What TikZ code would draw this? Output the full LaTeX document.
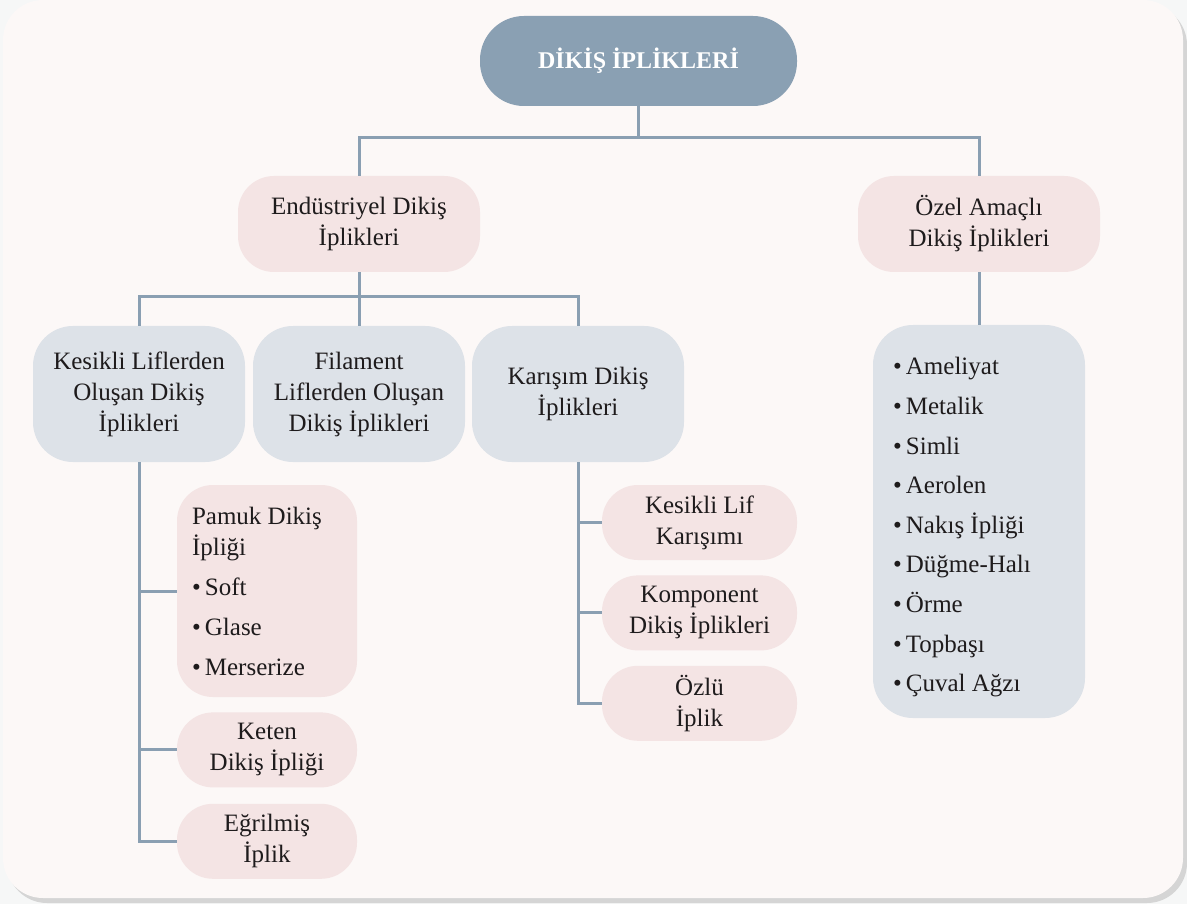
\documentclass[tikz,border=0pt]{standalone}
\usepackage{fontspec}
\setmainfont{Liberation Serif}
\usetikzlibrary{positioning}
\definecolor{dkpage}{RGB}{246,247,247}
\definecolor{dkpanel}{RGB}{252,248,247}
\definecolor{dkshadow}{RGB}{213,213,213}
\definecolor{dkslate}{RGB}{138,160,179}
\definecolor{dkpink}{RGB}{244,228,228}
\definecolor{dkgrey}{RGB}{221,226,232}
\definecolor{dkline}{RGB}{138,159,178}
\definecolor{dktext}{RGB}{30,27,28}
\newcommand{\dkfont}{\fontsize{25}{31}\selectfont}
\tikzset{
  rootnode/.style={fill=dkslate, rounded corners=44pt, text=white,
                   font=\fontsize{24}{30}\selectfont\bfseries,
                   minimum width=317pt, minimum height=90pt, inner sep=0pt},
  pnode/.style={fill=dkpink, rounded corners=36pt, font=\dkfont, text=dktext,
                align=center, minimum width=#1, minimum height=75pt, inner sep=0pt},
  gnode/.style={fill=dkgrey, rounded corners=40pt, font=\dkfont, text=dktext,
                align=center, minimum width=212pt, minimum height=136pt, inner sep=0pt},
  link/.style={draw=dkline, line width=3pt},
}

\begin{document}
\begin{tikzpicture}[x=1pt, y=-1pt]
  % Page and panel
  \fill[dkpage] (0,0) rectangle (1187,904);
  \useasboundingbox (0,0) rectangle (1187,904);
  \fill[dkshadow, rounded corners=40pt] (7,5) rectangle (1187,903);
  \fill[dkpanel, rounded corners=40pt] (3,0) rectangle (1183,898);

  % Top
  \node[rootnode] (root) at (638.5,61) {DİKİŞ İPLİKLERİ};

  % Second level
  \node[pnode=242pt, minimum height=96pt] (endus) at (359,224) {Endüstriyel Dikiş\\İplikleri};
  \node[pnode=242pt, minimum height=96pt] (ozel) at (979,224) {Özel Amaçlı\\Dikiş İplikleri};

  % Third level
  \node[gnode] (kesikli) at (139,394) {Kesikli Liflerden\\Oluşan Dikiş\\İplikleri};
  \node[gnode] (filament) at (359,394) {Filament\\Liflerden Oluşan\\Dikiş İplikleri};
  \node[gnode] (karisim) at (578,394) {Karışım Dikiş\\İplikleri};
  \node[gnode, minimum height=393pt, align=flush left, text width=172pt, inner xsep=20pt,
        font=\fontsize{25}{39.6}\selectfont] (ozelbox) at (979,521.5)
        {\rule{0pt}{29pt}•\,Ameliyat\\•\,Metalik\\•\,Simli\\•\,Aerolen\\•\,Nakış İpliği\\•\,Düğme-Halı\\•\,Örme\\•\,Topbaşı\\•\,Çuval Ağzı};

  % Under Kesikli
  \node[pnode=180pt, minimum height=212pt, align=flush left, text width=150pt, inner xsep=15pt]
        (pamuk) at (267,591)
        {Pamuk Dikiş\\İpliği\\[9pt]•\,Soft\\[9pt]•\,Glase\\[9pt]•\,Merserize};
  \node[pnode=180pt, below=15pt of pamuk] (keten) {Keten\\Dikiş İpliği};
  \node[pnode=180pt, below=16pt of keten] (egril) {Eğrilmiş\\İplik};

  % Under Karisim
  \node[pnode=195pt] (keslif) at (699.5,522.5) {Kesikli Lif\\Karışımı};
  \node[pnode=195pt, below=15pt of keslif] (komp) {Komponent\\Dikiş İplikleri};
  \node[pnode=195pt, below=15pt of komp] (ozlu) {Özlü\\İplik};

  % Connectors
  \coordinate (j1) at (638.5,138);
  \coordinate (j2) at (359,297);
  \draw[link] (root.south) -- (j1);
  \draw[link] (endus.north) |- (j1) -| (ozel.north);
  \draw[link] (endus.south) -- (filament.north);
  \draw[link] (kesikli.north) |- (j2) -| (karisim.north);
  \draw[link] (ozel.south) -- (ozelbox.north);
  \draw[link] (kesikli.south) |- (egril.west);
  \draw[link] (kesikli.south) |- (keten.west);
  \draw[link] (kesikli.south) |- (pamuk.west);
  \draw[link] (karisim.south) |- (ozlu.west);
  \draw[link] (karisim.south) |- (komp.west);
  \draw[link] (karisim.south) |- (keslif.west);
\end{tikzpicture}
\end{document}
